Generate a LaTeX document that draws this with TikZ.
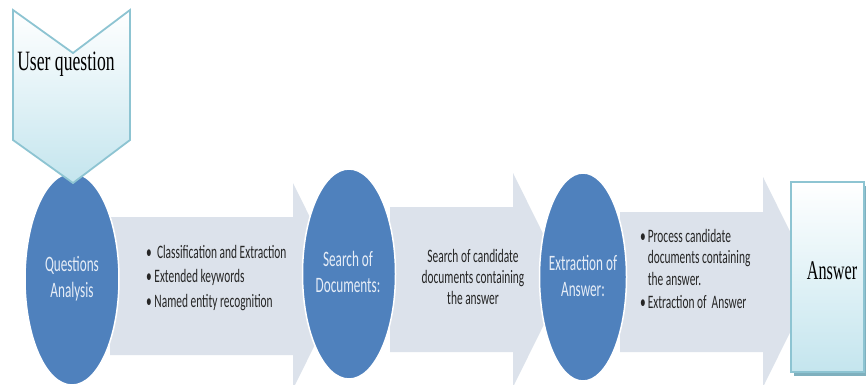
\documentclass[tikz,border=0pt]{standalone}
\usepackage{fontspec}
\setmainfont{Carlito}
\newfontfamily\serifface{Liberation Serif}
\usetikzlibrary{shapes.geometric}
\definecolor{ovalblue}{HTML}{4F81BD}
\definecolor{ovaltext}{HTML}{E6EDF7}
\definecolor{arrowfill}{HTML}{DCE2EB}
\definecolor{cyanfill}{HTML}{C4E5EE}
\definecolor{cyanedge}{HTML}{8DC4D2}
\definecolor{cyanshadow}{HTML}{7FB0BE}
\newcommand{\sqz}[2][0.6]{\scalebox{#1}[1]{#2}}
\tikzset{
  blockarrow/.style={fill=arrowfill, draw=none},
  oval/.style={ellipse, fill=ovalblue, draw=white, line width=1.5pt, inner sep=0pt},
  ovallabel/.style={text=ovaltext},
  arrowlabel/.style={text=black!85, inner sep=0pt},
  cyanbox/.style={top color=white, bottom color=cyanfill, draw=cyanedge, line width=1.8pt, line join=miter},
}
\begin{document}
\begin{tikzpicture}[x=1pt,y=-1pt]
\useasboundingbox (0,0) rectangle (866,384);
\clip (0,0) rectangle (866,384);
\fill[white] (0,0) rectangle (866,384);

% block arrows
\fill[blockarrow] (110,217) -- (293,217) -- (293,183) -- (344,286) -- (293,389) -- (293,355) -- (110,355) -- cycle;
\fill[blockarrow] (390,207) -- (513,207) -- (513,173) -- (566,280) -- (513,387) -- (513,352) -- (390,352) -- cycle;
\fill[blockarrow] (620,212) -- (763,212) -- (763,177) -- (815,282) -- (763,387) -- (763,352) -- (620,352) -- cycle;

% ovals
\node[oval, minimum width=94pt, minimum height=212pt] (qa) at (72,279) {};
\node[oval, minimum width=93pt, minimum height=210pt] (sd) at (349,274) {};
\node[oval, minimum width=87pt, minimum height=208pt] (ea) at (583,277) {};

\node[ovallabel] at (qa.center) {\sqz{\fontsize{22}{26}\selectfont\begin{tabular}{@{}c@{}}Questions\\Analysis\end{tabular}}};
\node[ovallabel] at (348,274) {\sqz{\fontsize{22}{26}\selectfont\begin{tabular}{@{}c@{}}Search of\\Documents:\end{tabular}}};
\node[ovallabel] at (583,278) {\sqz{\fontsize{22}{26}\selectfont\begin{tabular}{@{}c@{}}Extraction of\\Answer:\end{tabular}}};

% arrow texts
\node[arrowlabel, anchor=west] (t1) at (146,278) {\sqz{\fontsize{19}{24.5}\selectfont\begin{tabular}{@{}l@{}}\textbullet\ \ Classification and Extraction\\\textbullet\ Extended keywords\\\textbullet\ Named entity recognition\end{tabular}}};
\node[arrowlabel] (t2) at (473,279) {\sqz{\fontsize{19}{21}\selectfont\begin{tabular}{@{}c@{}}Search of candidate\\documents containing\\the answer\end{tabular}}};
\node[arrowlabel, anchor=west] (t3) at (640,271) {\sqz{\fontsize{19}{21.5}\selectfont\begin{tabular}{@{}l@{\,}l@{}}\textbullet & Process candidate\\ & documents containing\\ & the answer.\\[2pt]\textbullet & Extraction of\ \ Answer\end{tabular}}};

% user question chevron
\draw[cyanbox] (13,10) -- (73,53) -- (130,10) -- (130,140) -- (73,183) -- (13,140) -- cycle;
\node[inner sep=0pt] (uq) at (66,64) {\sqz[0.63]{\serifface\fontsize{28}{30}\selectfont User question}};

% answer box
\fill[cyanshadow] (794,186) rectangle (866,376);
\draw[cyanbox] (791,182) rectangle (864,372);
\node[inner sep=0pt] (ans) at (832,271) {\sqz[0.6]{\serifface\fontsize{27}{30}\selectfont Answer}};
\end{tikzpicture}
\end{document}
